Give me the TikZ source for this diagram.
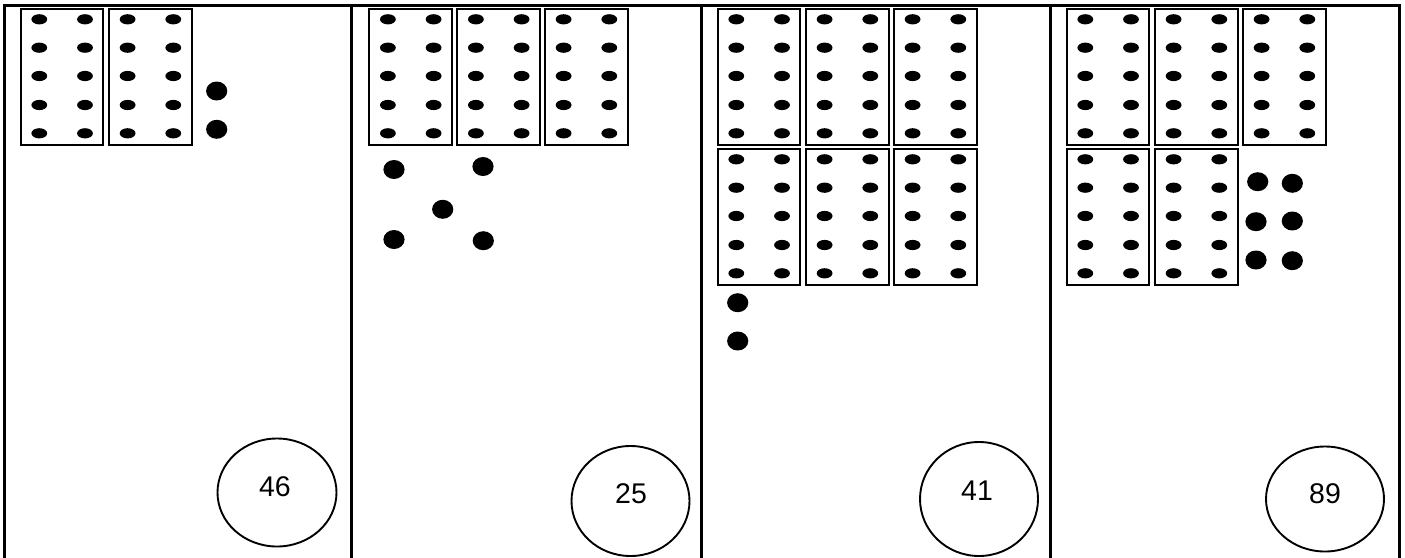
\documentclass[tikz,border=0pt]{standalone}
\usepackage{fontspec}
\setmainfont{Liberation Sans}
\usetikzlibrary{shapes.geometric}
\tikzset{
  frameline/.style={line width=3pt},
  boxline/.style={line width=2pt},
  smalldot/.style={fill=black},
  bigdot/.style={fill=black},
  answer/.style={draw, ellipse, line width=1.9pt, inner sep=0pt},
  numtext/.style={font=\fontsize{28.5}{32}\selectfont, inner sep=0pt}
}
\newcommand\tenframe[2]{%
  \draw[boxline] (#1,#2) rectangle ++(82.5,136);
  \foreach \rr in {10.3,38.7,67,96,124.3}{%
    \fill[smalldot] (#1+18.6,#2+\rr) ellipse[x radius=7.9, y radius=5.1];
    \fill[smalldot] (#1+64.3,#2+\rr) ellipse[x radius=7.9, y radius=5.1];
  }%
}
\newcommand\onedot[2]{\fill[bigdot] (#1,#2) ellipse[x radius=10.6, y radius=9.5];}
\begin{document}
\begin{tikzpicture}[x=1pt,y=-1pt]
\useasboundingbox (0,0) rectangle (1405,557);
% frame
\draw[frameline] (4,560) -- (4,5) -- (1399,5) -- (1399,560);
\draw[frameline] (351.7,5) -- (351.7,560);
\draw[frameline] (701.5,5) -- (701.5,560);
\draw[frameline] (1050.5,5) -- (1050.5,560);
% panel 1
\tenframe{20.7}{9}
\tenframe{109}{9}
\onedot{216.7}{91}
\onedot{216.7}{129.3}
\node[answer, minimum width=119pt, minimum height=108pt] (e1) at (277,492.5) {};
\node[numtext] (t1) at (275,486.7) {46};
% panel 2
\tenframe{369.3}{9}
\tenframe{457.3}{9}
\tenframe{545}{9}
\onedot{394}{169.5}
\onedot{483}{166.5}
\onedot{442.7}{209.3}
\onedot{394}{239.5}
\onedot{483.3}{240.7}
\node[answer, minimum width=118pt, minimum height=110pt] (e2) at (630.5,501) {};
\node[numtext] (t2) at (631,494) {25};
% panel 3
\tenframe{717.7}{9}
\tenframe{806}{9}
\tenframe{894}{9}
\tenframe{717.7}{149}
\tenframe{806}{149}
\tenframe{894}{149}
\onedot{737.7}{302.7}
\onedot{737.7}{341}
\node[answer, minimum width=118pt, minimum height=114pt] (e3) at (979,499) {};
\node[numtext] (t3) at (977,491) {41};
% panel 4
\tenframe{1066.7}{9}
\tenframe{1155}{9}
\tenframe{1243}{9}
\tenframe{1066.7}{149}
\tenframe{1155}{149}
\onedot{1257.7}{181.7}
\onedot{1292.3}{183.3}
\onedot{1256}{221.7}
\onedot{1292.3}{221}
\onedot{1256}{260}
\onedot{1292.3}{260.7}
\node[answer, minimum width=118pt, minimum height=105pt] (e4) at (1325,499) {};
\node[numtext] (t4) at (1325,493.3) {89};
\end{tikzpicture}
\end{document}
